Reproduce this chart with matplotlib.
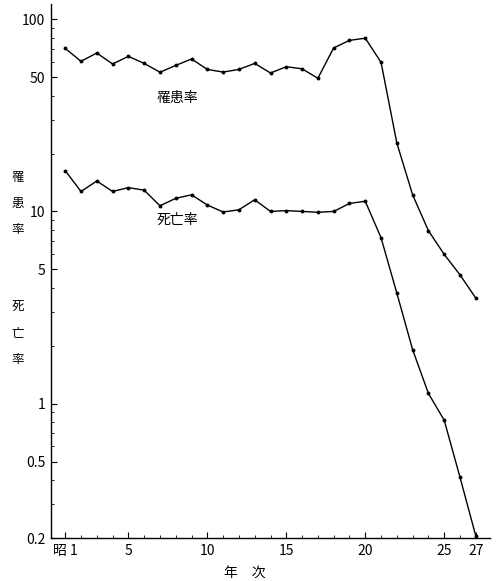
import matplotlib
matplotlib.use("Agg")
import matplotlib.pyplot as plt
from matplotlib.ticker import FixedLocator, LogLocator, NullFormatter

plt.rcParams['font.family'] = ['Noto Sans CJK JP', 'DejaVu Sans']

years = list(range(1, 28))
incidence = [70.5, 60.4, 66.7, 58.5, 64.1, 58.9, 53.0, 57.5, 62.1, 54.8, 53.1, 54.8,
             58.9, 52.5, 56.6, 55.2, 49.3, 70.9, 77.6, 79.7, 59.7, 22.7, 12.2, 7.94,
             5.98, 4.68, 3.54]
mortality = [16.3, 12.7, 14.4, 12.7, 13.3, 12.9, 10.7, 11.7, 12.2, 10.8, 9.93, 10.2,
             11.5, 10.0, 10.1, 10.0, 9.9, 10.0, 11.0, 11.3, 7.3, 3.76, 1.91, 1.13,
             0.82, 0.414, 0.205]
xtick_vals = [1, 5, 10, 15, 20, 25, 27]
xtick_labels = ["昭 1", "5", "10", "15", "20", "25", "27"]
ytick_vals = [100, 50, 10, 5, 1, 0.5, 0.2]
ytick_labels = ["100", "50", "10", "5", "1", "0.5", "0.2"]

fig = plt.figure(figsize=(4.97, 5.81), dpi=100)
ax = fig.add_axes([51/497, 1 - 538/581, (490-51)/497, (538-4)/581])

ax.plot(years, incidence, color='black', lw=1.0, marker='o', ms=1.8)
ax.plot(years, mortality, color='black', lw=1.0, marker='o', ms=1.8)

ax.set_yscale('log')
ax.set_ylim(0.2, 120)
ax.set_xlim(0.1, 27.9)

ax.yaxis.set_major_locator(FixedLocator(ytick_vals))
ax.set_yticklabels(ytick_labels)
ax.yaxis.set_minor_locator(LogLocator(base=10, subs=[2, 3, 4, 6, 7, 8, 9]))
ax.yaxis.set_minor_formatter(NullFormatter())
ax.set_xticks(xtick_vals)
ax.set_xticklabels(xtick_labels)
ax.set_xticks(years, minor=True)

ax.tick_params(axis='both', which='major', direction='in', length=4, width=0.8,
               labelsize=10, pad=4)
ax.tick_params(axis='both', which='minor', direction='in', length=2, width=0.6)

for s in ['top', 'right']:
    ax.spines[s].set_visible(False)
for s in ['left', 'bottom']:
    ax.spines[s].set_linewidth(1.0)

ax.text(8.1, 38.8, "罹患率", fontsize=10, ha='center', va='center')
ax.text(8.1, 9.0, "死亡率", fontsize=10, ha='center', va='center')

fig.text(18/497, 1 - 203/581, "罹\n患\n率", fontsize=9, ha='center', va='center',
         linespacing=2.3)
fig.text(18/497, 1 - 333/581, "死\n亡\n率", fontsize=9, ha='center', va='center',
         linespacing=2.3)
fig.text(245/497, 1 - 573/581, "年　次", fontsize=10, ha='center', va='center')

fig.savefig("out.png", dpi=100, facecolor='white')
